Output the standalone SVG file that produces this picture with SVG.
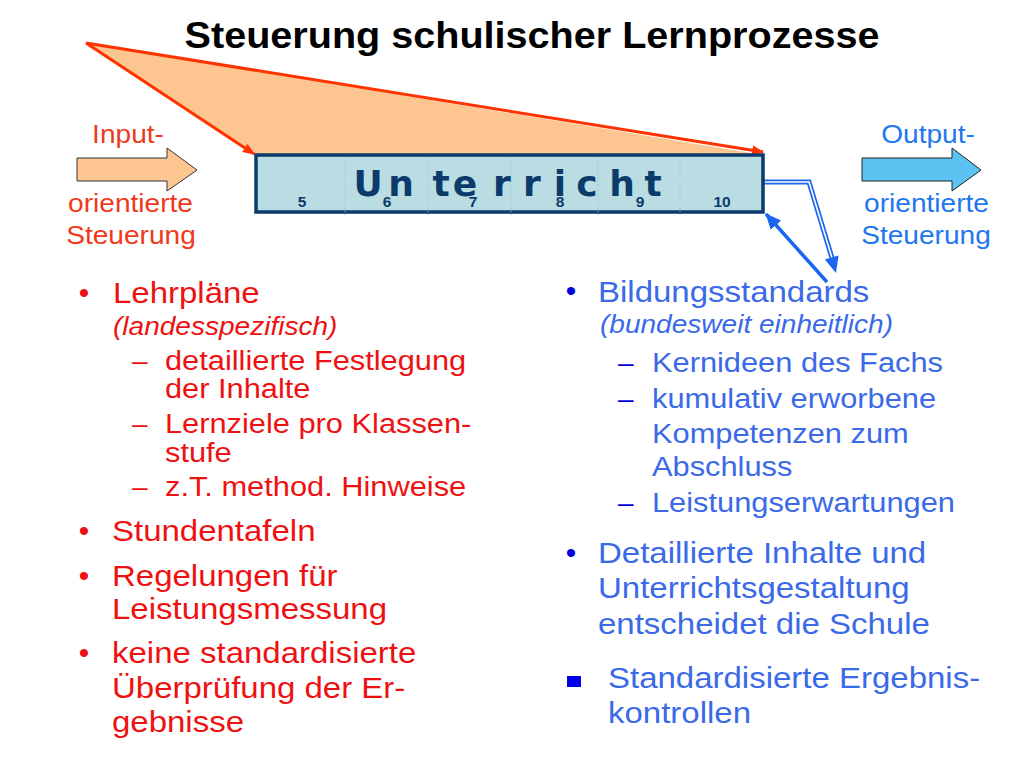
<svg xmlns="http://www.w3.org/2000/svg" width="1024" height="768" viewBox="0 0 1024 768">
<defs>
<style>
text{font-family:"Liberation Sans",Arial,sans-serif}
.title{font-size:37px;font-weight:bold;fill:#000}
.red{fill:#EE1111}
.blu{fill:#3A6AE8}
.bul{fill:#0000DD}
.l1{font-size:30px}
.l2{font-size:28px}
.it{font-size:25.5px;font-style:italic}
.side{font-size:26.5px}
.inp{fill:#EE3A1A}
.outp{fill:#2277EE}
.num{font-size:15.5px;font-weight:bold;fill:#0B3A6B}
.unt{font-family:"DejaVu Sans",sans-serif;font-size:36px;font-weight:bold;fill:#0B3A6B}
.div{stroke:#9FB8BE;stroke-width:1;stroke-dasharray:1 2}
</style>
<marker id="arR" viewBox="0 0 12 10" refX="11" refY="5" markerWidth="12" markerHeight="10" orient="auto" markerUnits="userSpaceOnUse">
<path d="M0,0 L12,5 L0,10 z" fill="#FF3300"/>
</marker>
<marker id="arB" viewBox="0 0 16 14" refX="15" refY="7" markerWidth="16" markerHeight="14" orient="auto" markerUnits="userSpaceOnUse">
<path d="M0,0 L16,7 L0,14 z" fill="#1A66F0"/>
</marker>
</defs>
<rect width="1024" height="768" fill="#FFFFFF"/>

<g id="title">
<text class="title" text-anchor="middle" transform="translate(532,48) scale(1.07,1)">Steuerung schulischer Lernprozesse</text>
</g>

<g id="funnel">
<polygon points="86,43 256,155 763,155" fill="#FDC690"/>
</g>

<g id="connectors">
<path d="M86,43 L254,154" stroke="#FF3300" stroke-width="3" fill="none" marker-end="url(#arR)"/>
<path d="M86,43 L763,152" stroke="#FF3300" stroke-width="3" fill="none" marker-end="url(#arR)"/>
<path d="M763,182 L809,182 L832,258" stroke="#1A66F0" stroke-width="5" fill="none" stroke-linejoin="miter"/>
<path d="M763,182 L809,182 L832,258" stroke="#FFFFFF" stroke-width="1.6" fill="none" stroke-linejoin="miter"/>
<polygon points="836,273 838.5,255.5 824.8,259.5" fill="#1A66F0"/>
<path d="M827,282 L766,214" stroke="#1A66F0" stroke-width="3.5" fill="none" marker-end="url(#arB)"/>
</g>

<g id="unterricht">
<rect x="256" y="155" width="507" height="57" fill="#B9DDE2" stroke="#0B3A6B" stroke-width="3.5"/>
<line class="div" x1="345" y1="157" x2="345" y2="216"/>
<line class="div" x1="428" y1="157" x2="428" y2="216"/>
<line class="div" x1="511" y1="157" x2="511" y2="216"/>
<line class="div" x1="598" y1="157" x2="598" y2="216"/>
<line class="div" x1="680" y1="157" x2="680" y2="216"/>
<text class="unt" text-anchor="middle" x="368 401 441 465 502 532 560 587 622 653" y="196">Unterricht</text>
<text class="num" text-anchor="middle" x="302" y="207">5</text>
<text class="num" text-anchor="middle" x="387" y="207">6</text>
<text class="num" text-anchor="middle" x="473" y="207">7</text>
<text class="num" text-anchor="middle" x="560" y="207">8</text>
<text class="num" text-anchor="middle" x="640" y="207">9</text>
<text class="num" text-anchor="middle" x="722" y="207">10</text>
</g>

<g id="input">
<polygon points="77,158 167,158 167,148 197,170 167,191 167,181 77,181" fill="#FDC690" stroke="#333333" stroke-width="1"/>
<text class="side inp" text-anchor="middle" transform="translate(128,143) scale(1.06,1)">Input-</text>
<text class="side inp" text-anchor="middle" transform="translate(130.5,212) scale(1.06,1)">orientierte</text>
<text class="side inp" text-anchor="middle" transform="translate(131,244) scale(1.06,1)">Steuerung</text>
</g>

<g id="output">
<polygon points="862,158 952,158 952,148 981,170 952,191 952,181 862,181" fill="#5BC3F2" stroke="#222222" stroke-width="1"/>
<text class="side outp" text-anchor="middle" transform="translate(928,143) scale(1.06,1)">Output-</text>
<text class="side outp" text-anchor="middle" transform="translate(926.5,212) scale(1.06,1)">orientierte</text>
<text class="side outp" text-anchor="middle" transform="translate(926,244) scale(1.06,1)">Steuerung</text>
</g>

<g id="left-list">
<text class="l1 red" text-anchor="middle" x="84" y="303">•</text>
<text class="l1 red" transform="translate(113,303) scale(1.1,1)">Lehrpläne</text>
<text class="it red" transform="translate(113,335) scale(1.1,1)">(landesspezifisch)</text>
<text class="l2 red" x="132" y="370">–</text>
<text class="l2 red" transform="translate(165,370) scale(1.1,1)">detaillierte Festlegung</text>
<text class="l2 red" transform="translate(165,398) scale(1.1,1)">der Inhalte</text>
<text class="l2 red" x="132" y="433">–</text>
<text class="l2 red" transform="translate(165,433) scale(1.1,1)">Lernziele pro Klassen-</text>
<text class="l2 red" transform="translate(165,462) scale(1.1,1)">stufe</text>
<text class="l2 red" x="132" y="496">–</text>
<text class="l2 red" transform="translate(165,496) scale(1.1,1)">z.T. method. Hinweise</text>
<text class="l1 red" text-anchor="middle" x="84" y="541">•</text>
<text class="l1 red" transform="translate(112,541) scale(1.1,1)">Stundentafeln</text>
<text class="l1 red" text-anchor="middle" x="84" y="586">•</text>
<text class="l1 red" transform="translate(112,586) scale(1.1,1)">Regelungen für</text>
<text class="l1 red" transform="translate(112,619) scale(1.1,1)">Leistungsmessung</text>
<text class="l1 red" text-anchor="middle" x="84" y="663">•</text>
<text class="l1 red" transform="translate(112,663) scale(1.1,1)">keine standardisierte</text>
<text class="l1 red" transform="translate(112,698) scale(1.1,1)">Überprüfung der Er-</text>
<text class="l1 red" transform="translate(112,732) scale(1.1,1)">gebnisse</text>
</g>

<g id="right-list">
<text class="l1 bul" text-anchor="middle" x="571" y="301">•</text>
<text class="l1 blu" transform="translate(598,302) scale(1.1,1)">Bildungsstandards</text>
<text class="it blu" transform="translate(600,333) scale(1.1,1)">(bundesweit einheitlich)</text>
<text class="l2 bul" x="618" y="372">–</text>
<text class="l2 blu" transform="translate(652,372) scale(1.1,1)">Kernideen des Fachs</text>
<text class="l2 bul" x="618" y="408">–</text>
<text class="l2 blu" transform="translate(652,408) scale(1.1,1)">kumulativ erworbene</text>
<text class="l2 blu" transform="translate(652,443) scale(1.1,1)">Kompetenzen zum</text>
<text class="l2 blu" transform="translate(652,476) scale(1.1,1)">Abschluss</text>
<text class="l2 bul" x="618" y="512">–</text>
<text class="l2 blu" transform="translate(652,512) scale(1.1,1)">Leistungserwartungen</text>
<text class="l1 bul" text-anchor="middle" x="571" y="563">•</text>
<text class="l1 blu" transform="translate(598,563) scale(1.1,1)">Detaillierte Inhalte und</text>
<text class="l1 blu" transform="translate(598,598) scale(1.1,1)">Unterrichtsgestaltung</text>
<text class="l1 blu" transform="translate(598,634) scale(1.1,1)">entscheidet die Schule</text>
<rect x="567" y="676" width="14" height="11" fill="#0000EE"/>
<text class="l1 blu" transform="translate(608,688) scale(1.1,1)">Standardisierte Ergebnis-</text>
<text class="l1 blu" transform="translate(608,723) scale(1.1,1)">kontrollen</text>
</g>
</svg>
